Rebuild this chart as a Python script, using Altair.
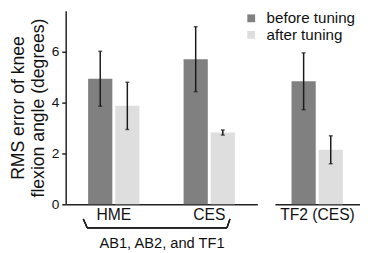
import altair as alt
import pandas as pd

conditions = ["before tuning", "after tuning"]
left_groups = ["HME", "CES"]
right_groups = ["TF2 (CES)"]
hme_mean = [4.95, 3.88]
hme_err = [1.08, 0.93]
ces_mean = [5.72, 2.83]
ces_err = [1.28, 0.10]
tf2_mean = [4.85, 2.15]
tf2_err = [1.12, 0.55]
y_ticks = [0, 2, 4, 6]
colors = ["#808080", "#dedede"]
FONT = "Liberation Sans"
H = 198

def rows(group, means, errs):
    return [
        {"group": group, "cond": c, "mean": m, "lo": m - e, "hi": m + e}
        for c, m, e in zip(conditions, means, errs)
    ]


left_df = pd.DataFrame(rows("HME", hme_mean, hme_err) + rows("CES", ces_mean, ces_err))
right_df = pd.DataFrame(rows("TF2 (CES)", tf2_mean, tf2_err))

yscale = alt.Scale(domain=[0, 7.63], nice=False, zero=True)
color = alt.Color(
    "cond:N",
    sort=conditions,
    scale=alt.Scale(domain=conditions, range=colors),
    legend=alt.Legend(
        title=None, orient="none", legendX=182, legendY=0,
        symbolType="square", symbolSize=64, symbolStrokeWidth=0,
        labelFontSize=15.5, labelFont=FONT, labelColor="#111",
        rowPadding=0, labelOffset=8,
    ),
)
xoff = alt.XOffset("cond:N", sort=conditions, scale=alt.Scale(paddingInner=0.107, paddingOuter=0))


def panel(df, groups, x_axis, y_axis, width, pin, pout, extra=None):
    x = alt.X("group:N", sort=groups, scale=alt.Scale(domain=groups, paddingInner=pin, paddingOuter=pout), axis=x_axis)
    base = alt.Chart(df).encode(x=x, xOffset=xoff)
    bars = base.mark_bar().encode(y=alt.Y("mean:Q", scale=yscale, axis=y_axis), color=color)
    err = base.mark_rule(color="#1a1a1a", strokeWidth=1.5).encode(y=alt.Y("lo:Q", scale=yscale), y2="hi:Q")
    cap_hi = base.mark_tick(color="#1a1a1a", thickness=1.5, size=4).encode(y=alt.Y("hi:Q", scale=yscale))
    cap_lo = base.mark_tick(color="#1a1a1a", thickness=1.5, size=4).encode(y=alt.Y("lo:Q", scale=yscale))
    layers = [bars, err, cap_hi, cap_lo]
    if extra:
        layers += extra
    return alt.layer(*layers).properties(width=width, height=H)


common_x = dict(labelAngle=0, ticks=False, labelFontSize=16, labelFont=FONT, labelColor="#111",
                domainColor="#222", domainWidth=1.5, labelPadding=3)

left_x_axis = alt.Axis(title="AB1, AB2, and TF1", titleFontSize=15, titleFont=FONT, titleFontWeight="normal",
                       titleColor="#111", titlePadding=13, **common_x)
left_y_axis = alt.Axis(values=y_ticks, title=["RMS error of knee", "flexion angle (degrees)"], grid=False,
                       tickSize=4, tickColor="#222", tickWidth=1.5, domainColor="#222", domainWidth=1.5,
                       labelFontSize=14, labelFont=FONT, labelColor="#111", labelPadding=3,
                       titleFontSize=18, titleFont=FONT, titleFontWeight="normal", titleColor="#111",
                       titleLineHeight=20, titlePadding=4)
right_x_axis = alt.Axis(title=None, **common_x)

brace = [
    alt.Chart(left_df).mark_rule(color="#222", strokeWidth=1.2).encode(
        x=alt.value(18), x2=alt.value(22), y=alt.value(H + 15), y2=alt.value(H + 24)),
    alt.Chart(left_df).mark_rule(color="#222", strokeWidth=1.2).encode(
        x=alt.value(22), x2=alt.value(165), y=alt.value(H + 24), y2=alt.value(H + 24)),
    alt.Chart(left_df).mark_rule(color="#222", strokeWidth=1.2).encode(
        x=alt.value(165), x2=alt.value(168), y=alt.value(H + 24), y2=alt.value(H + 15)),
]

left = panel(left_df, left_groups, left_x_axis, left_y_axis, 196, 0.4625, 0.235, brace)
right = panel(right_df, right_groups, right_x_axis, None, 87, 0.0, 0.32)

chart = alt.hconcat(left, right, spacing=18, bounds="flush").properties(
    padding={"left": 2, "top": 0, "right": 0, "bottom": 0},
    background="white",
).configure_view(stroke=None)

chart.save("out.html", embed_options={"renderer": "svg", "actions": False})
